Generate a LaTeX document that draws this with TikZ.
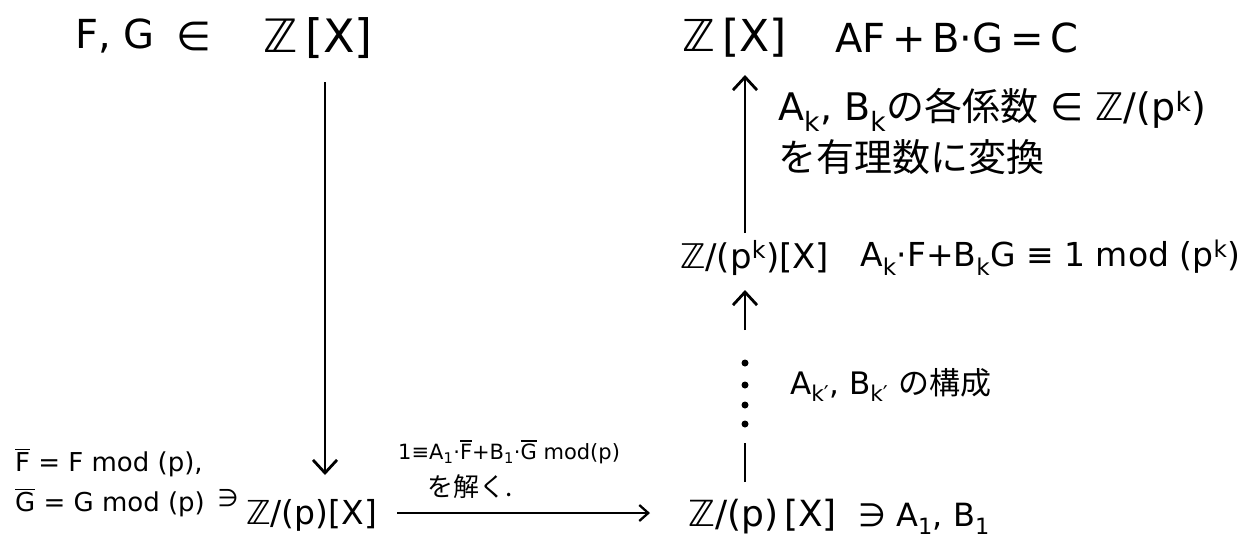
\documentclass[tikz,border=0pt]{standalone}
\usepackage{fontspec}
\setmainfont{DejaVu Sans}
\newfontfamily\jp{Noto Sans CJK JP}
\usetikzlibrary{arrows.meta}
\newcommand\ovl[1]{\leavevmode\vbox{\hrule height 1.5pt\kern 2.2pt\hbox{#1}}}
\tikzset{
  txt/.style={inner sep=0pt, font=\fontsize{#1}{#1}\selectfont},
  txt/.default=40,
  arr/.style={line width=2.8pt, -{Straight Barb[length=13pt,width=24pt,line width=2.8pt]}},
  harr/.style={line width=2.3pt, -{Straight Barb[length=9pt,width=16pt,line width=2.3pt]}},
  seg/.style={line width=2.8pt},
  dotn/.style={circle, fill=black, inner sep=0pt, minimum size=7pt},
}
\begin{document}
\begin{tikzpicture}[x=1pt,y=-1pt]
\useasboundingbox (0,0) rectangle (1258,547);
% top left
\node[txt, anchor=west] (fg) at (75,36) {F, G};
\node[txt] (in1) at (194,36) {∈};
\node[txt=46, anchor=west] (zx1) at (263,38) {ℤ\,[X]};
% bottom left
\node[txt=26, anchor=west] (fbar) at (15,463) {\ovl{F} = F mod (p),};
\node[txt=26, anchor=west] (gbar) at (15,503) {\ovl{G} = G mod (p)};
\node[txt=24] (ni1) at (228,498) {∋};
\node[txt=33, anchor=west] (zp1) at (246,515) {ℤ/(p)[X]};
% horizontal label
\node[txt=21, anchor=west] (lab1) at (398,452) {1≡A\textsubscript{1}·\ovl{F}+B\textsubscript{1}·\ovl{G} mod(p)};
\node[txt=26, anchor=west] (lab2) at (427,487) {\jp を解く.};
% bottom right
\node[txt=36, anchor=west] (zp2) at (688,517) {ℤ/(p)\,[X]};
\node[txt=32, anchor=west] (ab1) at (858,519) {∋ A\textsubscript{1}, B\textsubscript{1}};
% right column
\node[txt=44, anchor=west] (zx2) at (682,38) {ℤ\,[X]};
\node[txt=40, anchor=west] (eqc) at (835,38) {AF\,+\,B·G\,=\,C};
\node[txt=38, anchor=west] (conv1) at (778,110) {A\textsubscript{k}, B\textsubscript{k}{\jp の各係数} ∈ ℤ/(p\textsuperscript{k})};
\node[txt=38, anchor=west] (conv2) at (778,157) {\jp を有理数に変換};
\node[txt=34, anchor=west] (zpk) at (680,258) {ℤ/(p\textsuperscript{k})[X]};
\node[txt=33, anchor=west] (eqk) at (860,258) {A\textsubscript{k}·F+B\textsubscript{k}G ≡ 1 mod (p\textsuperscript{k})};
\node[txt=31, anchor=west] (cons) at (790,385) {A\textsubscript{k′}, B\textsubscript{k′} {\jp の構成}};
% column helpers
\coordinate (c0) at (745,75);
\coordinate (c1) at (745,233);
\coordinate (c2) at (745,290);
\coordinate (c3) at (745,330);
\node[dotn] (d1) at (745,363) {};
\node[dotn] (d2) at (745,385) {};
\node[dotn] (d3) at (745,405) {};
\node[dotn] (d4) at (745,424) {};
\coordinate (c4) at (745,443);
\coordinate (c5) at (745,482);
\coordinate (v0) at (325,82);
\coordinate (v1) at (325,475);
\coordinate (h0) at (397,513);
\coordinate (h1) at (650,513);
% connectors
\draw[arr] (v0) -- (v1);
\draw[arr] (c1) -- (c0);
\draw[arr] (c3) -- (c2);
\draw[seg] (c5) -- (c4);
\draw[harr] (h0) -- (h1);
\end{tikzpicture}
\end{document}
